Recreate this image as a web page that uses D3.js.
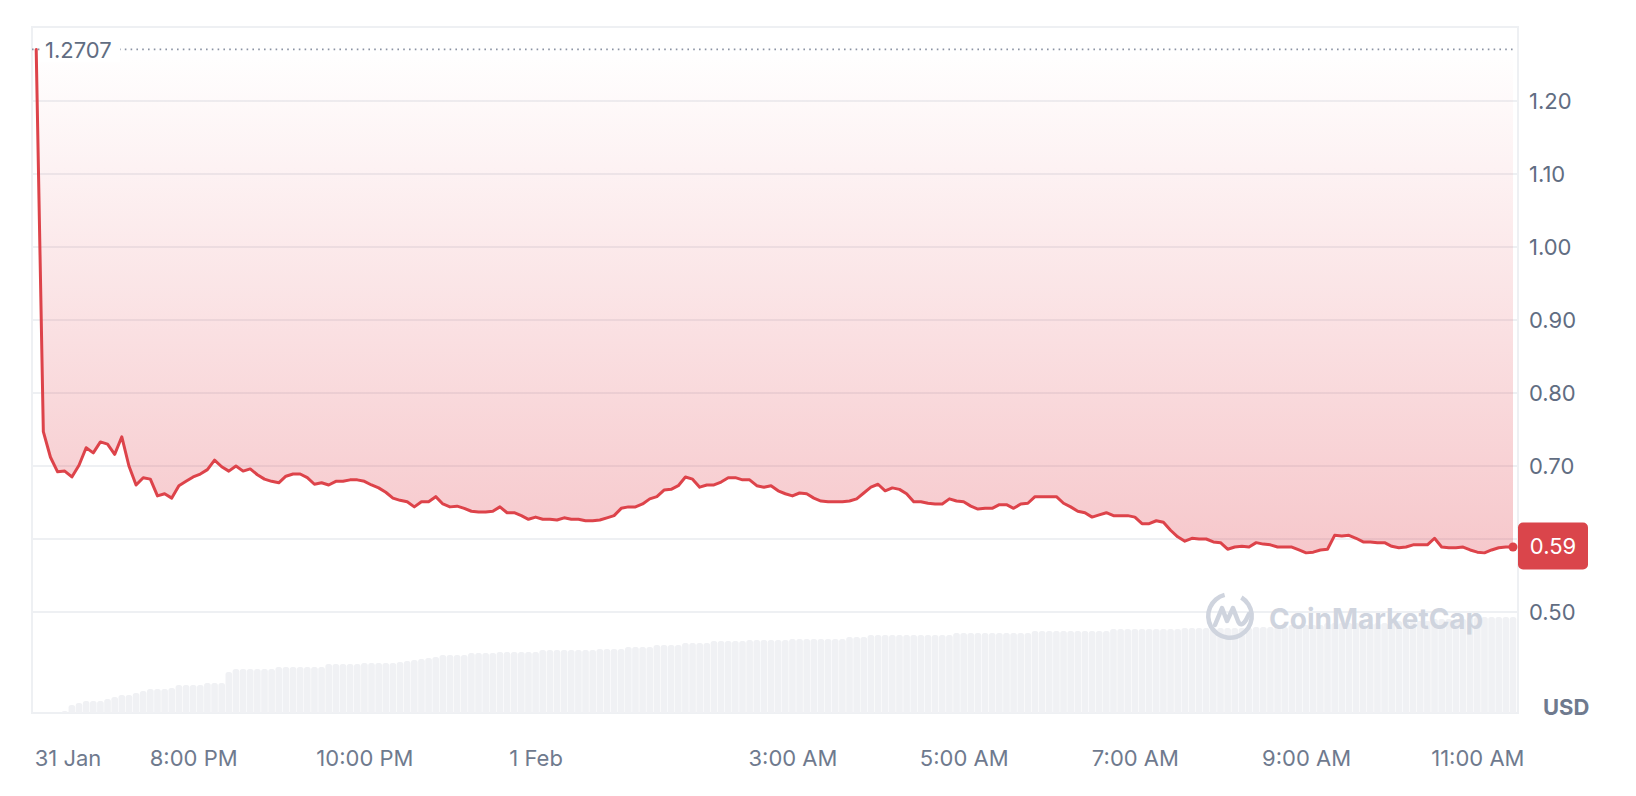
<!DOCTYPE html>
<html><head><meta charset="utf-8">
<script src="https://cdn.jsdelivr.net/npm/d3@7"></script>
<style>
html,body{margin:0;padding:0;background:#fff;}
svg{display:block;font-family:Inter,"Noto Sans",sans-serif;}
</style></head><body>
<svg id="chart" width="1636" height="796"></svg>
<script>
// ---- data ----
const startTime = new Date(2025, 0, 31, 18, 10);
const stepMinutes = 5;
const openPrice = 1.2707;
const openLabel = "1.2707";
const lastPriceLabel = "0.59";
const currency = "USD";
const watermark = "CoinMarketCap";

const prices = [
1.2707,0.747,0.712,0.692,0.693,0.685,0.701,0.725,0.718,0.733,
0.730,0.716,0.740,0.700,0.674,0.684,0.682,0.659,0.662,0.656,
0.673,0.679,0.685,0.689,0.695,0.708,0.699,0.693,0.700,0.693,
0.696,0.688,0.682,0.679,0.677,0.686,0.689,0.689,0.684,0.675,
0.677,0.674,0.679,0.679,0.681,0.681,0.679,0.674,0.670,0.664,
0.656,0.653,0.651,0.644,0.651,0.651,0.658,0.648,0.644,0.645,
0.642,0.638,0.637,0.637,0.638,0.644,0.636,0.636,0.632,0.627,
0.630,0.627,0.627,0.626,0.629,0.627,0.627,0.625,0.625,0.626,
0.629,0.632,0.642,0.644,0.644,0.648,0.655,0.658,0.667,0.668,
0.673,0.685,0.682,0.671,0.674,0.674,0.678,0.684,0.684,0.681,
0.681,0.673,0.671,0.673,0.666,0.662,0.659,0.663,0.662,0.656,
0.652,0.651,0.651,0.651,0.652,0.655,0.663,0.671,0.675,0.666,
0.670,0.668,0.662,0.651,0.651,0.649,0.648,0.648,0.655,0.652,
0.651,0.645,0.641,0.642,0.642,0.647,0.647,0.642,0.648,0.649,
0.658,0.658,0.658,0.658,0.649,0.644,0.638,0.636,0.630,0.633,
0.636,0.632,0.632,0.632,0.630,0.621,0.621,0.625,0.623,0.612,
0.603,0.597,0.601,0.600,0.600,0.596,0.595,0.586,0.589,0.590,
0.589,0.595,0.593,0.592,0.589,0.589,0.589,0.585,0.581,0.582,
0.585,0.586,0.605,0.604,0.605,0.601,0.596,0.596,0.595,0.595,
0.590,0.588,0.589,0.592,0.592,0.592,0.601,0.589,0.588,0.588,
0.589,0.585,0.582,0.581,0.585,0.588,0.589,0.589
];

const volumes = [
0,0,0,0,0.2,0.8,1.0,1.2,1.2,1.2,
1.4,1.6,1.8,1.8,2.0,2.2,2.4,2.4,2.4,2.5,
2.8,2.8,2.8,2.8,3.0,3.0,3.0,4.1,4.4,4.4,
4.4,4.4,4.4,4.4,4.6,4.6,4.6,4.6,4.6,4.6,
4.6,4.9,4.9,4.9,4.9,4.9,5.0,5.0,5.0,5.0,
5.0,5.1,5.2,5.3,5.4,5.5,5.6,5.8,5.8,5.8,
5.8,6.0,6.0,6.0,6.0,6.1,6.1,6.1,6.1,6.1,
6.1,6.3,6.3,6.3,6.3,6.3,6.3,6.3,6.3,6.4,
6.4,6.4,6.4,6.6,6.6,6.6,6.6,6.8,6.8,6.8,
6.8,7.0,7.0,7.0,7.0,7.2,7.2,7.2,7.2,7.2,
7.3,7.3,7.3,7.3,7.3,7.3,7.4,7.4,7.4,7.4,
7.4,7.4,7.4,7.4,7.6,7.6,7.6,7.8,7.8,7.8,
7.8,7.8,7.8,7.8,7.8,7.8,7.8,7.8,7.8,8.0,
8.0,8.0,8.0,8.0,8.0,8.0,8.0,8.0,8.0,8.0,
8.2,8.2,8.2,8.2,8.2,8.2,8.2,8.2,8.2,8.2,
8.2,8.4,8.4,8.4,8.4,8.4,8.4,8.4,8.4,8.4,
8.4,8.5,8.5,8.5,8.5,8.5,8.5,8.5,8.5,8.5,
8.5,8.6,8.6,8.6,8.6,8.6,8.8,8.8,8.8,8.8,
8.8,9.0,9.0,9.0,9.0,9.0,9.0,9.0,9.0,9.0,
9.0,9.2,9.2,9.2,9.2,9.2,9.4,9.4,9.4,9.4,
9.4,9.6,9.6,9.6,9.6,9.6,9.6,9.6
];

const yTicks = [0.5, 0.7, 0.8, 0.9, 1.0, 1.1, 1.2];
const yTickLabels = ["0.50", "0.70", "0.80", "0.90", "1.00", "1.10", "1.20"];
const gridValues = [0.5, 0.6, 0.7, 0.8, 0.9, 1.0, 1.1, 1.2];

const xTickTimes = [
  new Date(2025, 0, 31, 18, 10), new Date(2025, 0, 31, 20, 0), new Date(2025, 0, 31, 22, 0),
  new Date(2025, 1, 1, 0, 0), new Date(2025, 1, 1, 3, 0), new Date(2025, 1, 1, 5, 0),
  new Date(2025, 1, 1, 7, 0), new Date(2025, 1, 1, 9, 0), new Date(2025, 1, 1, 11, 0)
];
const xTickLabels = ["31 Jan", "8:00 PM", "10:00 PM", "1 Feb", "3:00 AM", "5:00 AM", "7:00 AM", "9:00 AM", "11:00 AM"];

// ---- layout ----
const plot = { left: 32, right: 1518, top: 27, bottom: 713 };
const RED = "#dd434a";
const GRID = "#eef0f3";
const TEXT = "#616d82";

const data = prices.map((p, i) => ({
  t: new Date(startTime.getTime() + i * stepMinutes * 60000),
  p: p,
  v: volumes[i]
}));

const x = d3.scaleTime()
  .domain([data[0].t, data[data.length - 1].t])
  .range([36.2, 1513]);
const y = d3.scaleLinear().domain([0.5, 1.2]).range([612, 101]);
const yVol = d3.scaleLinear().domain([0, 10]).range([plot.bottom, plot.bottom - 100]);

const svg = d3.select("#chart");
const defs = svg.append("defs");

const grad = defs.append("linearGradient")
  .attr("id", "areaGrad").attr("gradientUnits", "userSpaceOnUse")
  .attr("x1", 0).attr("x2", 0)
  .attr("y1", y(openPrice)).attr("y2", y(d3.min(prices)));
grad.append("stop").attr("offset", 0).attr("stop-color", "#e03a47").attr("stop-opacity", 0.0);
grad.append("stop").attr("offset", 1).attr("stop-color", "#e03a47").attr("stop-opacity", 0.28);

defs.append("clipPath").attr("id", "plotClip")
  .append("rect").attr("x", plot.left).attr("y", plot.top)
  .attr("width", plot.right - plot.left).attr("height", plot.bottom - plot.top);

// frame
svg.append("rect")
  .attr("x", plot.left).attr("y", plot.top)
  .attr("width", plot.right - plot.left).attr("height", plot.bottom - plot.top)
  .attr("fill", "none").attr("stroke", GRID).attr("stroke-width", 2);

// grid
svg.append("g").selectAll("line").data(gridValues).join("line")
  .attr("x1", plot.left).attr("x2", plot.right)
  .attr("y1", d => y(d)).attr("y2", d => y(d))
  .attr("stroke", GRID).attr("stroke-width", 2);

// volume bars
const barW = 6.6;
svg.append("g").attr("clip-path", "url(#plotClip)")
  .selectAll("rect").data(data.filter(d => d.v > 0)).join("rect")
  .attr("x", d => x(d.t) - barW / 2)
  .attr("width", barW)
  .attr("y", d => yVol(d.v))
  .attr("height", d => plot.bottom - yVol(d.v) + 4)
  .attr("rx", 2.5)
  .attr("fill", "#f0f1f4");

// watermark
const wm = svg.append("g").attr("transform", "translate(1230,616)");
wm.append("path")
  .attr("d", d3.arc()({ innerRadius: 19.5, outerRadius: 24, startAngle: 0.55, endAngle: 2 * Math.PI - 0.25 }))
  .attr("fill", "#cfd4de");
wm.append("path")
  .attr("d", "M -15 9 L -8 -8 L -3 5 L 3 -8 L 8 5 Q 11 12 16 4 L 19 -2")
  .attr("fill", "none").attr("stroke", "#cfd4de").attr("stroke-width", 4.5)
  .attr("stroke-linejoin", "round").attr("stroke-linecap", "round");
svg.append("text")
  .attr("x", 1269).attr("y", 629)
  .attr("font-size", 28).attr("font-weight", 700)
  .attr("fill", "#cfd4de")
  .text(watermark);

// area between open price and line
const area = d3.area()
  .x(d => x(d.t))
  .y0(y(openPrice))
  .y1(d => y(d.p));
svg.append("path").datum(data)
  .attr("d", area)
  .attr("fill", "url(#areaGrad)");

// open price dotted baseline
svg.append("line")
  .attr("x1", plot.left).attr("x2", plot.right - 3)
  .attr("y1", y(openPrice)).attr("y2", y(openPrice))
  .attr("stroke", "#8b93a4").attr("stroke-width", 1.6)
  .attr("stroke-dasharray", "1.6 4.2");

svg.append("rect")
  .attr("x", 40).attr("y", y(openPrice) - 13)
  .attr("width", 80).attr("height", 26)
  .attr("fill", "#fff");
svg.append("text")
  .attr("x", 45).attr("y", y(openPrice)).attr("dy", "0.4em")
  .attr("font-size", 22).attr("fill", TEXT)
  .text(openLabel);

// price line
const line = d3.line().x(d => x(d.t)).y(d => y(d.p));
svg.append("path").datum(data)
  .attr("d", line)
  .attr("fill", "none").attr("stroke", RED)
  .attr("stroke-width", 3).attr("stroke-linejoin", "round").attr("stroke-linecap", "round");

const last = data[data.length - 1];
svg.append("circle")
  .attr("cx", x(last.t)).attr("cy", y(last.p)).attr("r", 4.5)
  .attr("fill", RED);

// y axis (right)
const yAxis = d3.axisRight(y)
  .tickValues(yTicks)
  .tickFormat((d, i) => yTickLabels[i])
  .tickSize(0).tickPadding(0);
const gy = svg.append("g").attr("transform", "translate(1529,0)").call(yAxis);
gy.select(".domain").remove();
gy.selectAll("text").attr("font-size", 22).attr("fill", TEXT).attr("font-family", "Inter");

// last price tag
svg.append("rect")
  .attr("x", plot.right).attr("y", y(last.p) - 24.5)
  .attr("width", 70).attr("height", 47).attr("rx", 5)
  .attr("fill", "#da454b");
svg.append("text")
  .attr("x", plot.right + 35).attr("y", y(last.p) - 1).attr("dy", "0.36em")
  .attr("text-anchor", "middle")
  .attr("font-size", 22).attr("fill", "#fff")
  .text(lastPriceLabel);

// x axis
const xAxis = d3.axisBottom(x)
  .tickValues(xTickTimes)
  .tickFormat((d, i) => xTickLabels[i])
  .tickSize(0).tickPadding(3);
const gx = svg.append("g").attr("transform", "translate(0,747)").call(xAxis);
gx.select(".domain").remove();
gx.selectAll("text").attr("font-size", 22).attr("fill", "#6f7a8e").attr("font-family", "Inter");
gx.selectAll("text").filter((d, i) => i === 0).attr("text-anchor", "start").attr("x", -2);

// currency label
svg.append("text")
  .attr("x", 1543).attr("y", 715)
  .attr("font-size", 22).attr("font-weight", 700).attr("fill", "#6f7a8e")
  .text(currency);
</script>
</body></html>
